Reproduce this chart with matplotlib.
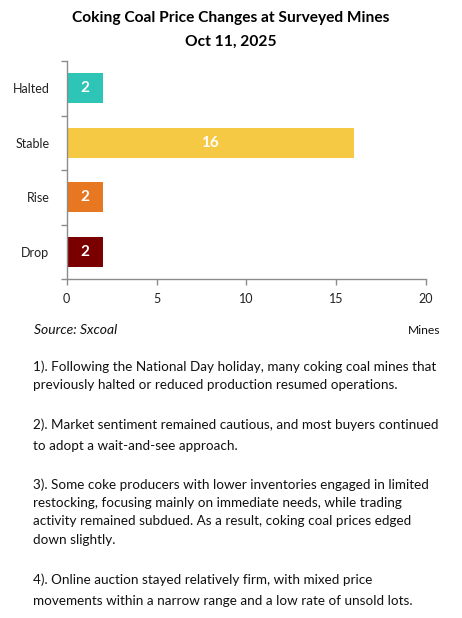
import matplotlib
matplotlib.use("Agg")
import matplotlib.pyplot as plt
from matplotlib.ticker import FixedLocator

categories = ["Halted", "Stable", "Rise", "Drop"]
values = [2, 16, 2, 2]
colors = ["#2EC4B6", "#F6C945", "#E87722", "#7A0000"]
x_ticks = [0, 5, 10, 15, 20]

title = "Coking Coal Price Changes at Surveyed Mines\nOct 11, 2025"
source = "Source: Sxcoal"
unit = "Mines"
notes = [
    ["1). Following the National Day holiday, many coking coal mines that",
     "previously halted or reduced production resumed operations."],
    ["2). Market sentiment remained cautious, and most buyers continued",
     "to adopt a wait-and-see approach."],
    ["3). Some coke producers with lower inventories engaged in limited",
     "restocking, focusing mainly on immediate needs, while trading",
     "activity remained subdued. As a result, coking coal prices edged",
     "down slightly."],
    ["4). Online auction stayed relatively firm, with mixed price",
     "movements within a narrow range and a low rate of unsold lots."],
]

FONT = ["Lato", "DejaVu Sans"]
plt.rcParams["font.family"] = FONT

W, H = 462, 618
fig = plt.figure(figsize=(W / 100, H / 100), dpi=100)

def fx(px):
    return px / W

def fy(py):
    return 1 - py / H

ax = fig.add_axes([fx(66.7), fy(279), fx(426) - fx(66.7), fy(61) - fy(279)])
pos = list(range(len(categories)))
ax.barh(pos, values, height=0.55, color=colors)
for p, v in zip(pos, values):
    ax.text(v / 2, p, str(v), ha="center", va="center", color="white",
            fontsize=11, fontweight="bold")

ax.set_ylim(len(categories) - 0.5, -0.5)
ax.set_xlim(x_ticks[0], x_ticks[-1])
ax.set_xticks(x_ticks)
ax.set_xticklabels([str(t) for t in x_ticks])
ax.set_yticks([p - 0.5 for p in pos] + [pos[-1] + 0.5])
ax.set_yticklabels([])
ax.yaxis.set_minor_locator(FixedLocator(pos))
ax.set_yticks(pos, minor=True)
ax.set_yticklabels(categories, minor=True)

spine_c = "#8C8C8C"
for s in ["top", "right"]:
    ax.spines[s].set_visible(False)
for s in ["left", "bottom"]:
    ax.spines[s].set_color(spine_c)
    ax.spines[s].set_linewidth(1.0)
ax.tick_params(axis="y", which="major", length=4, color=spine_c, width=1)
ax.tick_params(axis="y", which="minor", length=0, pad=12.5, labelsize=9, labelcolor="#222222")
ax.tick_params(axis="x", which="major", length=4, color=spine_c, width=1, labelsize=9,
               labelcolor="#222222", pad=6)

fig.text(0.5, fy(18), title.split("\n")[0], ha="center", va="center",
         fontsize=11.2, fontweight="bold", color="black")
fig.text(0.5, fy(42), title.split("\n")[1], ha="center", va="center",
         fontsize=11.2, fontweight="bold", color="black")

fig.text(fx(34), fy(330), source, ha="left", va="center", fontsize=10,
         style="italic", color="#111111")
fig.text(fx(440), fy(330), unit, ha="right", va="center", fontsize=8.7, color="#111111")

line_y = [[367, 385], [425, 446], [485, 503, 521, 540], [580, 601]]
for para, ys in zip(notes, line_y):
    for line, y in zip(para, ys):
        fig.text(fx(33), fy(y), line, ha="left", va="center", fontsize=9.75, color="#111111")

fig.savefig("out.png", dpi=100)
